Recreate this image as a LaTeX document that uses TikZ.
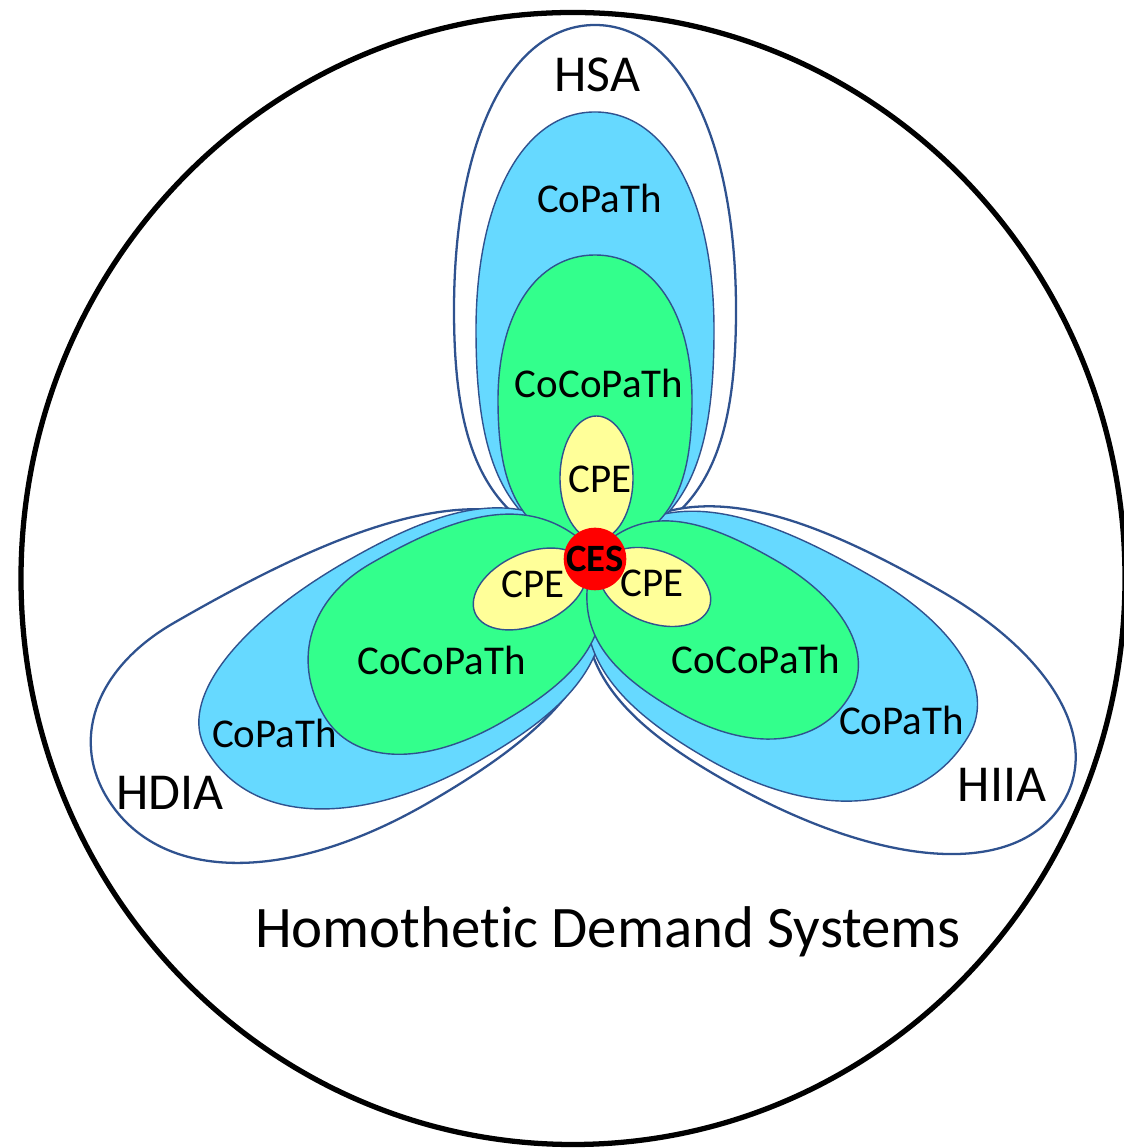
\documentclass[tikz,border=0pt]{standalone}
\usepackage{fontspec}
\setmainfont{Carlito}[Ligatures=NoCommon]
\usepackage{xcolor}
\definecolor{petalline}{RGB}{47,82,143}
\definecolor{copathblue}{RGB}{102,217,255}
\definecolor{cocogreen}{RGB}{51,255,140}
\definecolor{cpeyellow}{RGB}{255,255,153}
\definecolor{cesred}{RGB}{255,0,0}

% petal with its tip at (O): #1 angle, #2 length, #3 offset of far end,
% #4/#5 widest point and half width on one side, #6/#7 on the other, #8 style
\newcommand{\petal}[8]{%
  \begin{scope}[shift={(O)}, rotate=#1]
    \path[#8] (0,0)
      .. controls ({0.1*#4},{0.8*#5}) and ({0.45*#4},{#5}) .. ({#4},{#5})
      .. controls ({#4+0.6*(#2-#4)},{#5}) and ({#2},{#3+0.6*(#5-(#3))}) .. ({#2},{#3})
      .. controls ({#2},{#3-0.6*(#7+(#3))}) and ({#6+0.6*(#2-#6)},{-#7}) .. ({#6},{-#7})
      .. controls ({0.45*#6},{-#7}) and ({0.1*#6},{-0.8*#7}) .. (0,0) -- cycle;
  \end{scope}}

\begin{document}
\begin{tikzpicture}[x=0.02cm, y=0.02cm,
    outer/.style={draw=petalline, line width=1.3pt, fill=white},
    copath/.style={draw=petalline, line width=0.8pt, fill=copathblue},
    cocopath/.style={draw=petalline, line width=0.8pt, fill=cocogreen},
    cpe/.style={draw=petalline, line width=0.8pt, fill=cpeyellow},
    ces/.style={circle, fill=cesred, minimum size=1.12cm, inner sep=0pt,
        font=\bfseries\fontsize{22}{24}\selectfont},
    lab/.style={anchor=base, inner sep=0pt, font=\fontsize{23.3}{28}\selectfont},
    big/.style={anchor=base, inner sep=0pt, font=\fontsize{29.5}{35}\selectfont}
]
    \useasboundingbox (0,0) rectangle (1124,1148);

    % Whole class
    \draw[line width=3pt] (573,569.5) ellipse[x radius=552, y radius=566];
    \coordinate (O) at (595,595);

    % Outer sets: HSA, HDIA, HIIA
    \petal{90}{528}{0}{243}{141}{243}{141}{outer}
    \petal{210}{545}{-35}{270}{133}{400}{150}{outer}
    \petal{330}{530}{20}{320}{140}{220}{132}{outer}

    % CoPaTh
    \petal{90}{441}{0}{223}{119}{223}{119}{copath}
    \petal{210}{435}{-25}{200}{122}{220}{117}{copath}
    \petal{330}{415}{30}{250}{118}{200}{122}{copath}

    % CoCoPaTh
    \petal{90}{298}{0}{153}{97}{153}{97}{cocopath}
    \petal{210}{316}{5}{165}{100}{200}{103}{cocopath}
    \petal{330}{292}{5}{160}{84}{150}{96}{cocopath}

    % CPE
    \draw[cpe] (596.5,670) ellipse[x radius=36.5, y radius=62];
    \draw[cpe, rotate around={24:(530,559)}] (530,559) ellipse[x radius=60, y radius=36];
    \draw[cpe, rotate around={-21:(655,561)}] (655,561) ellipse[x radius=58, y radius=36];

    % CES in the middle
    \node[ces] (ces) at (595,589) {CES};

    % Labels
    \node[big] (hsa) at (597.5,1056) {HSA};
    \node[lab] (copathT) at (599.5,935) {CoPaTh};
    \node[lab] (cocoT) at (599,750) {CoCoPaTh};
    \node[lab] (cpeT) at (600,655) {CPE};
    \node[lab] (cpeL) at (533,550) {CPE};
    \node[lab] (cpeR) at (652,551) {CPE};
    \node[lab] (cocoL) at (441.5,473) {CoCoPaTh};
    \node[lab] (cocoR) at (756,474) {CoCoPaTh};
    \node[lab] (copathL) at (274.5,400) {CoPaTh};
    \node[lab] (copathR) at (901.5,413) {CoPaTh};
    \node[big] (hdia) at (170,338) {HDIA};
    \node[big] (hiia) at (1002,346) {HIIA};
    \node[anchor=base, inner sep=0pt, font=\fontsize{33.5}{40}\selectfont] (title) at (608,200) {Homothetic Demand Systems};
\end{tikzpicture}
\end{document}
